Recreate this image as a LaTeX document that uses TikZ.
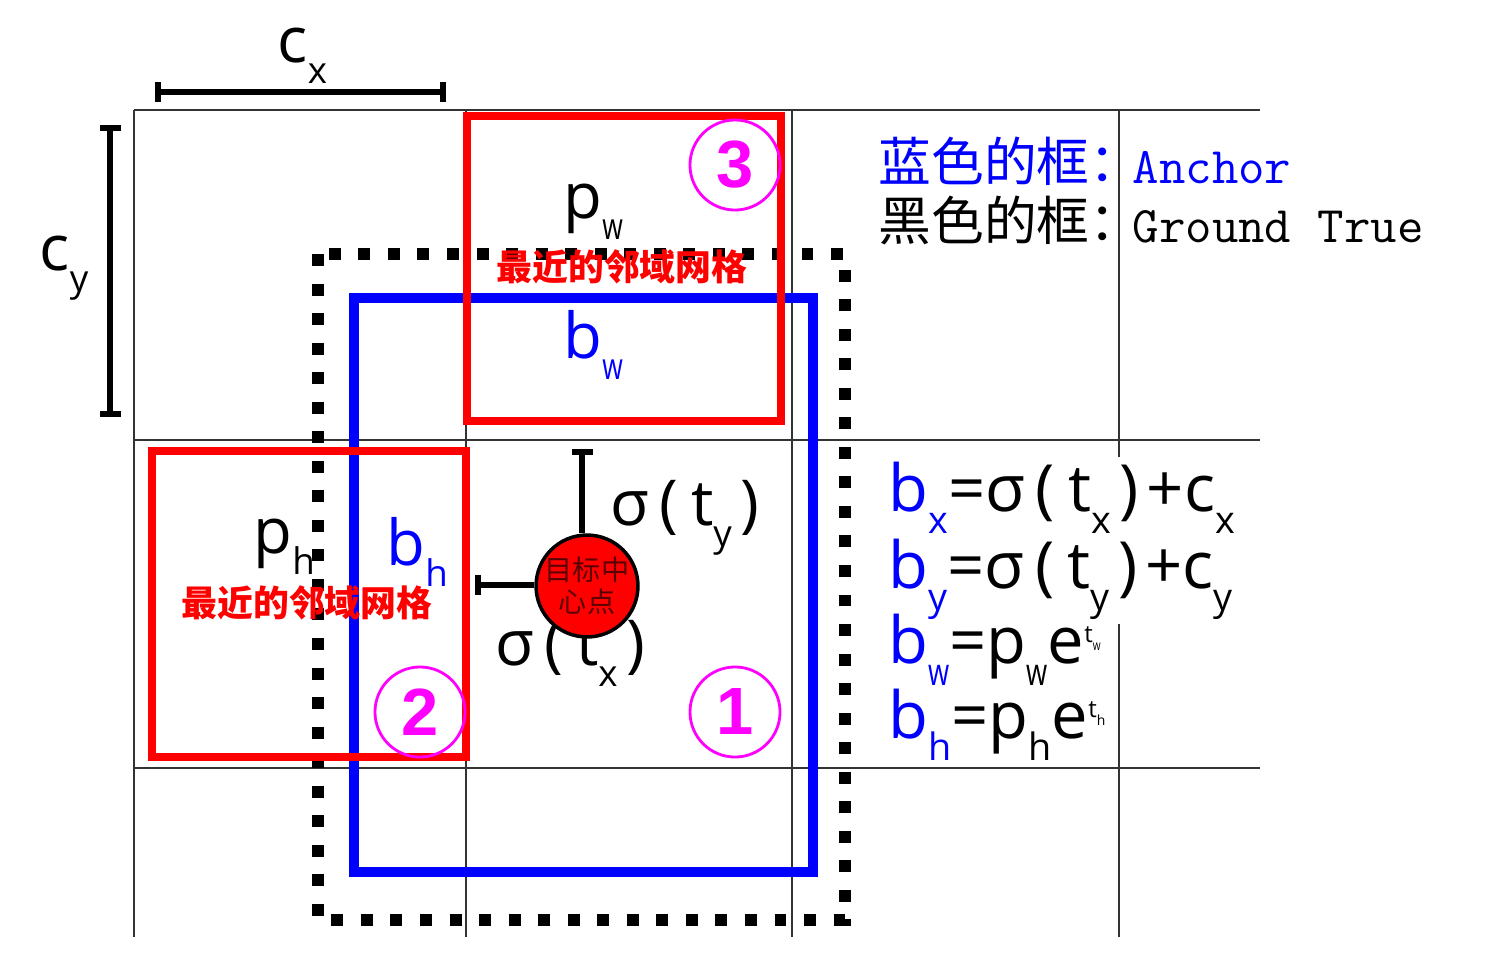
\documentclass[tikz,border=0pt]{standalone}
\usepackage{fontspec}
\newfontfamily\osans{Open Sans}
\newfontfamily\cjk{Noto Sans CJK SC}
\newfontfamily\numf{Liberation Sans}
\definecolor{mag}{RGB}{255,0,255}
\definecolor{pureblue}{RGB}{0,0,255}
\definecolor{purered}{RGB}{255,0,0}
\newcommand\lo[1]{\raisebox{-0.34em}{\scalebox{0.58}{#1}}}
\newcommand\hi[1]{\raisebox{0.32em}{\scalebox{0.37}{#1}}}
\newcommand\wn{\scalebox{0.72}[1]{w}}
\newcommand\lp{\kern0.16em(\kern0.2em}
\newcommand\rp{\kern0.14em)\kern0.12em}
\begin{document}
\begin{tikzpicture}[x=0.01cm,y=-0.01cm,
  gridline/.style={line width=0.6pt, draw=black!80},
  bracket/.style={line width=1.9pt, draw=black},
  mark2/.style={line width=1.5pt, draw=black},
  lab/.style={font=\osans\fontsize{18}{21}\selectfont, inner sep=0pt, anchor=base west},
  formula/.style={font=\osans\fontsize{18.5}{22}\selectfont, inner xsep=0pt, inner ysep=0.045cm, anchor=base west},
  redlab/.style={font=\cjk\bfseries\fontsize{10.2}{12}\selectfont, text=purered, inner sep=0pt},
  numc/.style={circle, draw=mag, line width=0.8pt, minimum size=0.9cm, inner sep=0pt,
    text=mag, font=\numf\bfseries\fontsize{19}{19}\selectfont},
  gtbox/.style={line width=3.5pt, draw=black, dash pattern=on 3.4pt off 5pt},
  anchorbox/.style={line width=3.1pt, draw=pureblue},
  nbbox/.style={line width=2.4pt, draw=purered},
  legend/.style={font=\cjk\fontsize{15}{18}\selectfont, inner sep=0pt, anchor=base west},
  legendm/.style={font=\ttfamily\fontsize{14.6}{17}\selectfont, inner sep=0pt, anchor=base west}]
\useasboundingbox (0,0) rectangle (1500,954);
% grid
\foreach \y in {110,440,768} \draw[gridline] (134,\y) -- (1260,\y);
\foreach \x in {134,466,792,1119} \draw[gridline] (\x,110) -- (\x,937);
% cx / cy brackets
\coordinate (cxa) at (158,92); \coordinate (cxb) at (443,92);
\draw[bracket] (cxa) -- (cxb);
\draw[bracket] (158,82) -- (158,102); \draw[bracket] (443,82) -- (443,102);
\node[lab] (cx) at (277,62) {c\lo{x}};
\coordinate (cya) at (110,128); \coordinate (cyb) at (110,414);
\draw[bracket] (cya) -- (cyb);
\draw[bracket] (100,128) -- (121,128); \draw[bracket] (100,414) -- (121,414);
\node[lab] (cy) at (39,270) {c\lo{y}};
% ground truth box
\draw[gtbox] (318,254) rectangle (845,920);
% labels
\node[lab] (pw) at (563,218) {p\lo{\wn}};
\node[lab, text=pureblue] (bw) at (563,358) {b\lo{\wn}};
\node[lab] (ph) at (253,553) {p\lo{h}};
\node[lab, text=pureblue] (bh) at (386,565) {b\lo{h}};
% anchor box
\draw[anchorbox] (354,298) rectangle (813,872);
% neighbour labels
\node[redlab] (nb3) at (622,267) {最近的邻域网格};
\node[redlab] (nb2) at (307,603) {最近的邻域网格};
% neighbour boxes
\draw[nbbox] (467,116) rectangle (781,421);
\draw[nbbox] (152,451) rectangle (466,757);
% numbers
\node[numc] (n3) at (735,165) {3};
\node[numc] (n2) at (420,712) {2};
\node[numc] (n1) at (735,712) {1};
% sigma labels
\node[lab] (sy) at (610,525) {σ\lp t\lo{y}\rp};
\node[lab] (sx) at (495,665) {σ\lp t\lo{x}\rp};
% centre
\node[circle, fill=purered, draw=black, line width=1pt, minimum size=0.92cm, inner sep=0pt,
  align=center, font=\cjk\fontsize{8}{9}\selectfont, text={rgb,255:red,90;green,0;blue,0}]
  (ctr) at (587,586) {目标中\\心点};
\coordinate (ty) at (582,452);
\draw[mark2] (ty) -- (ty |- ctr.north);
\draw[mark2] (572,452) -- (593,452);
\coordinate (tx) at (478,585);
\draw[mark2] (tx) -- (tx -| ctr.west);
\draw[mark2] (478,575) -- (478,595);
% formulas
\node[formula, fill=white] (f1) at (888,511) {{\color{pureblue}b\lo{x}}=σ\lp t\lo{x}\rp+c\lo{x}};
\node[formula, fill=white] (f2) at (888,588) {{\color{pureblue}b\lo{y}}=σ\lp t\lo{y}\rp+c\lo{y}};
\node[formula] (f3) at (888,663) {{\color{pureblue}b\lo{\wn}}=p\lo{\wn}e\hi{t\lo{\wn}}};
\node[formula] (f4) at (888,738) {{\color{pureblue}b\lo{h}}=p\lo{h}e\hi{t\lo{h}}};
% legend
\node[legend, text=pureblue] (l1) at (878,181) {蓝色的框：};
\node[legendm, text=pureblue] (l1m) at (1132,183) {Anchor};
\node[legend] (l2) at (878,240) {黑色的框：};
\node[legendm] (l2m) at (1132,242) {Ground True};
\end{tikzpicture}
\end{document}
